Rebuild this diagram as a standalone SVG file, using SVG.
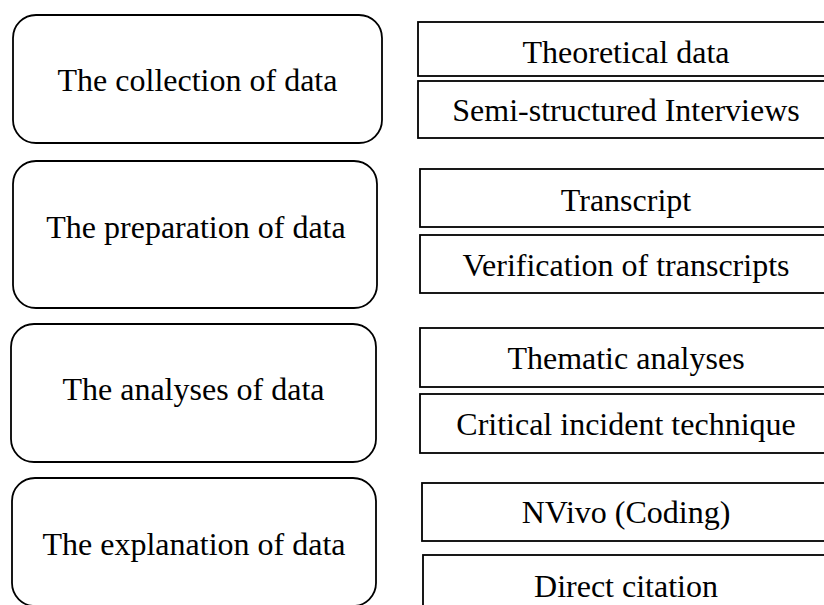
<svg xmlns="http://www.w3.org/2000/svg" width="824" height="605" viewBox="0 0 824 605">
<style>
.stage{fill:#fff;stroke:#000;stroke-width:1.8}
.item{fill:#fff;stroke:#000;stroke-width:1.8}
text{font-family:"Liberation Serif","Times New Roman",serif;font-size:32px;fill:#000;text-anchor:middle}
</style>
<rect width="824" height="605" fill="#fff"/>
<g id="connectors"/>
<g id="stage-collection">
<rect class="stage" x="13" y="15" width="369" height="128" rx="23"/>
<text x="197.5" y="91">The collection of data</text>
</g>
<g id="stage-preparation">
<rect class="stage" x="13" y="161" width="364" height="147" rx="23"/>
<text x="196" y="238">The preparation of data</text>
</g>
<g id="stage-analyses">
<rect class="stage" x="11" y="324" width="365" height="138" rx="23"/>
<text x="193.5" y="400">The analyses of data</text>
</g>
<g id="stage-explanation">
<rect class="stage" x="12" y="478" width="364" height="128" rx="23"/>
<text x="194" y="555">The explanation of data</text>
</g>
<g id="item-theoretical">
<rect class="item" x="418" y="22" width="420" height="54"/>
<text x="626" y="63">Theoretical data</text>
</g>
<g id="item-interviews">
<rect class="item" x="418" y="81" width="420" height="57"/>
<text x="626" y="121">Semi-structured Interviews</text>
</g>
<g id="item-transcript">
<rect class="item" x="420" y="169" width="420" height="58"/>
<text x="626" y="211">Transcript</text>
</g>
<g id="item-verification">
<rect class="item" x="420" y="235" width="420" height="58"/>
<text x="626" y="276">Verification of transcripts</text>
</g>
<g id="item-thematic">
<rect class="item" x="420" y="328" width="420" height="59"/>
<text x="626" y="369">Thematic analyses</text>
</g>
<g id="item-critical">
<rect class="item" x="420" y="394" width="420" height="59"/>
<text x="626" y="435">Critical incident technique</text>
</g>
<g id="item-nvivo">
<rect class="item" x="422" y="483" width="420" height="58"/>
<text x="626" y="523">NVivo (Coding)</text>
</g>
<g id="item-citation">
<rect class="item" x="423" y="555" width="420" height="70"/>
<text x="626" y="597">Direct citation</text>
</g>
</svg>
